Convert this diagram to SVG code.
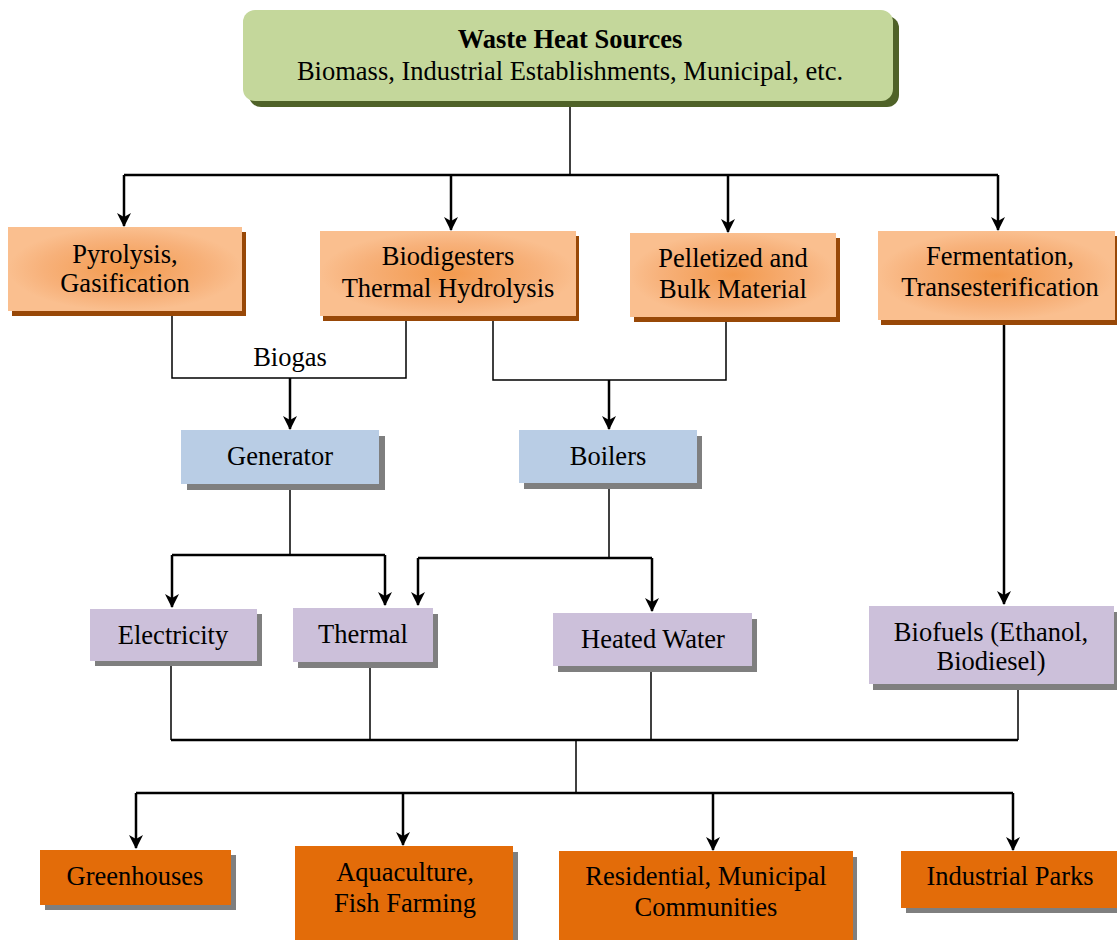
<svg xmlns="http://www.w3.org/2000/svg" width="1117" height="940" viewBox="0 0 1117 940">
<style>
text{font-family:"Liberation Serif","Times New Roman",serif;font-size:26.5px;fill:#000;text-anchor:middle}
.b{font-weight:bold}
.thin{fill:none;stroke:#000;stroke-width:1.5}
.thick{fill:none;stroke:#000;stroke-width:2.5}
.arr{fill:none;stroke:#000;stroke-width:2.5;marker-end:url(#ah)}
.sh-g{fill:#4f6228}
.sh-o{fill:#984807}
.sh{fill:#7f7f7f}
.green{fill:#c4d79b}
.lo{fill:url(#og)}
.blue{fill:#b9cde5}
.purp{fill:#ccc0da}
.dor{fill:#e36c09}
</style>
<defs>
<radialGradient id="og" cx="0.5" cy="0.5" r="0.5">
<stop offset="0" stop-color="#f39a4e"/>
<stop offset="0.7" stop-color="#f7b17a"/>
<stop offset="1" stop-color="#fabf8f"/>
</radialGradient>
<marker id="ah" viewBox="0 0 14 14" refX="13" refY="7" markerWidth="14" markerHeight="14" markerUnits="userSpaceOnUse" orient="auto">
<path d="M0,0 L14,7 L0,14 L4,7 z" fill="#000"/>
</marker>
</defs>

<g id="connectors">
<path class="thin" d="M570,100 V175"/>
<path class="thick" d="M124,175 H998"/>
<path class="arr" d="M124,175 V226"/>
<path class="arr" d="M451,175 V230"/>
<path class="arr" d="M728,175 V232"/>
<path class="arr" d="M998,175 V230"/>

<path class="thin" d="M172,314 V378 H406 V320"/>
<path class="arr" d="M290,378 V429"/>
<path class="thin" d="M493,320 V380 H726 V320"/>
<path class="arr" d="M609,380 V429"/>

<path class="thin" d="M290,488 V555"/>
<path class="thick" d="M172,555 H385"/>
<path class="arr" d="M172,555 V607"/>
<path class="arr" d="M385,555 V605"/>
<path class="thin" d="M609,488 V558"/>
<path class="thick" d="M418,558 H652"/>
<path class="arr" d="M418,558 V605"/>
<path class="arr" d="M652,558 V611"/>

<path class="arr" d="M1004,324 V604"/>

<path class="thin" d="M171,666 V740"/>
<path class="thin" d="M370,667 V740"/>
<path class="thin" d="M651,671 V740"/>
<path class="thin" d="M1018,689 V740"/>
<path class="thick" d="M171,740 H1018"/>
<path class="thin" d="M576,740 V793"/>
<path class="thick" d="M136,793 H1013"/>
<path class="arr" d="M136,793 V848"/>
<path class="arr" d="M403,793 V845"/>
<path class="arr" d="M713,793 V850"/>
<path class="arr" d="M1013,793 V850"/>
</g>

<g id="waste-heat-sources">
<rect class="sh-g" x="249" y="16" width="650" height="91" rx="12"/>
<rect class="green" x="243" y="10" width="650" height="91" rx="12"/>
<text class="b" x="570" y="48">Waste Heat Sources</text>
<text x="570" y="80">Biomass, Industrial Establishments, Municipal, etc.</text>
</g>

<g id="pyrolysis">
<rect class="sh-o" x="12" y="232" width="234" height="84"/>
<rect class="lo" x="8" y="227" width="234" height="84"/>
<text x="125" y="263">Pyrolysis,</text>
<text x="125" y="292">Gasification</text>
</g>

<g id="biodigesters">
<rect class="sh-o" x="323" y="236" width="256" height="85"/>
<rect class="lo" x="320" y="231" width="256" height="85"/>
<text x="448" y="265">Biodigesters</text>
<text x="448" y="297">Thermal Hydrolysis</text>
</g>

<g id="pelletized">
<rect class="sh-o" x="634" y="238" width="206" height="84"/>
<rect class="lo" x="630" y="233" width="206" height="84"/>
<text x="733" y="267">Pelletized and</text>
<text x="733" y="298">Bulk Material</text>
</g>

<g id="fermentation">
<rect class="sh-o" x="881" y="236" width="237" height="89"/>
<rect class="lo" x="878" y="231" width="237" height="89"/>
<text x="1000" y="265">Fermentation,</text>
<text x="1000" y="296">Transesterification</text>
</g>

<g id="biogas-label">
<text x="290" y="366">Biogas</text>
</g>

<g id="generator">
<rect class="sh" x="187" y="436" width="198" height="54"/>
<rect class="blue" x="181" y="430" width="198" height="54"/>
<text x="280" y="465">Generator</text>
</g>

<g id="boilers">
<rect class="sh" x="524" y="436" width="178" height="53"/>
<rect class="blue" x="519" y="430" width="178" height="53"/>
<text x="608" y="465">Boilers</text>
</g>

<g id="electricity">
<rect class="sh" x="95" y="614" width="167" height="52"/>
<rect class="purp" x="90" y="609" width="167" height="52"/>
<text x="173" y="644">Electricity</text>
</g>

<g id="thermal">
<rect class="sh" x="298" y="614" width="140" height="54"/>
<rect class="purp" x="293" y="608" width="140" height="54"/>
<text x="363" y="643">Thermal</text>
</g>

<g id="heated-water">
<rect class="sh" x="558" y="619" width="199" height="53"/>
<rect class="purp" x="553" y="613" width="199" height="53"/>
<text x="653" y="648">Heated Water</text>
</g>

<g id="biofuels">
<rect class="sh" x="873" y="612" width="245" height="78"/>
<rect class="purp" x="869" y="606" width="245" height="78"/>
<text x="991" y="641">Biofuels (Ethanol,</text>
<text x="991" y="670">Biodiesel)</text>
</g>

<g id="greenhouses">
<rect class="sh" x="45" y="855" width="191" height="55"/>
<rect class="dor" x="40" y="850" width="191" height="55"/>
<text x="135" y="885">Greenhouses</text>
</g>

<g id="aquaculture">
<rect class="sh" x="300" y="852" width="218" height="94"/>
<rect class="dor" x="295" y="846" width="218" height="94"/>
<text x="405" y="881">Aquaculture,</text>
<text x="405" y="912">Fish Farming</text>
</g>

<g id="residential">
<rect class="sh" x="563" y="857" width="294" height="89"/>
<rect class="dor" x="559" y="851" width="294" height="89"/>
<text x="706" y="885">Residential, Municipal</text>
<text x="706" y="916">Communities</text>
</g>

<g id="industrial-parks">
<rect class="sh" x="906" y="856" width="216" height="57"/>
<rect class="dor" x="901" y="851" width="216" height="57"/>
<text x="1010" y="885">Industrial Parks</text>
</g>
</svg>
